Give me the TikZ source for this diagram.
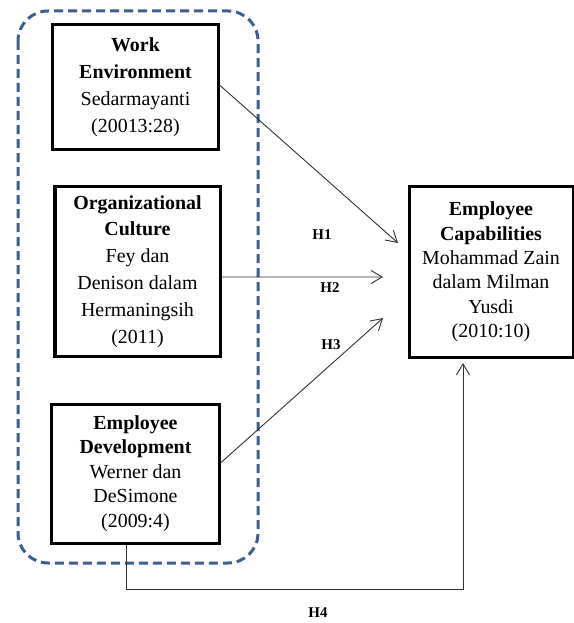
\documentclass[tikz,border=0pt]{standalone}
\usepackage{fontspec}
\setmainfont{Liberation Serif}
\usetikzlibrary{arrows.meta}
\definecolor{grpblue}{RGB}{60,96,140}
\definecolor{linegray}{RGB}{50,50,50}
\begin{document}
\begin{tikzpicture}[x=1bp,y=-1bp,
 box/.style={draw=black, line width=3bp, inner sep=0pt, align=center},
 wide/.style={font=\fontsize{20}{27}\selectfont},
 tight/.style={font=\fontsize{20}{24.5}\selectfont},
 conn/.style={draw=linegray, line width=0.9bp, -{Straight Barb[length=11bp,width=13bp,line width=0.9bp]}},
 hlabel/.style={font=\fontsize{15}{18}\selectfont\bfseries, inner sep=0pt},
 group/.style={draw=grpblue, line width=3bp, dash pattern=on 9bp off 5bp, rounded corners=30bp}]

\useasboundingbox (0,0) rectangle (574,623);
\fill[white] (0,0) rectangle (574,623);

\draw[group] (18,11) rectangle (258,563);

\node[box, wide, minimum width=165bp, minimum height=124bp] (WE) at (135.5,87)
  {\textbf{Work}\\\textbf{Environment}\\Sedarmayanti\\(20013:28)};
\node[box, wide, minimum width=165bp, minimum height=169bp] (OC) at (137.5,271.5)
  {\textbf{Organizational}\\\textbf{Culture}\\Fey dan\\Denison dalam\\Hermaningsih\\(2011)};
\node[box, tight, minimum width=167bp, minimum height=139bp] (ED) at (135.5,473.5)
  {\textbf{Employee}\\\textbf{Development}\\Werner dan\\DeSimone\\(2009:4)};
\node[box, tight, minimum width=164bp, minimum height=170bp] (EC) at (491,272)
  {\textbf{Employee}\\\textbf{Capabilities}\\Mohammad Zain\\dalam Milman\\Yusdi\\(2010:10)};

\coordinate (h1e) at (398,243);
\coordinate (h2e) at (383,277);
\coordinate (h3e) at (383,318);
\coordinate (h4a) at (126,589);
\coordinate (h4e) at (463,363);

\draw[conn] ([yshift=2bp]WE.east) -- (h1e);
\draw[conn] ([yshift=-5.5bp]OC.east) -- (h2e);
\draw[conn] ([yshift=10.5bp]ED.east) -- (h3e);
\draw[conn] (ED.south -| h4a) -- (h4a) -- (h4a -| h4e) -- (h4e);

\node[hlabel] (H1) at (322,235) {H1};
\node[hlabel] (H2) at (330,288) {H2};
\node[hlabel] (H3) at (331,345) {H3};
\node[hlabel] (H4) at (318,613) {H4};
\end{tikzpicture}
\end{document}
